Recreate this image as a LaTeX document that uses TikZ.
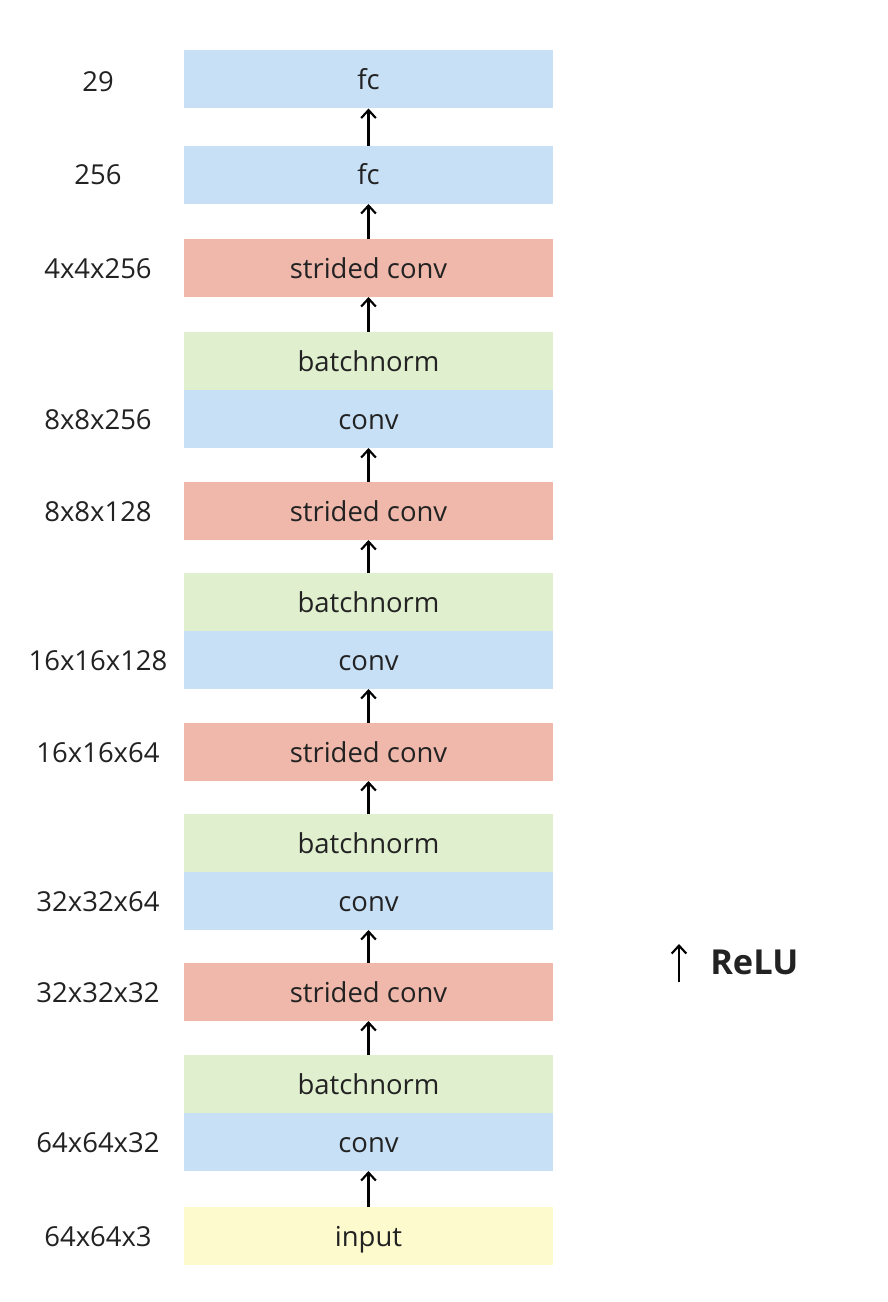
\documentclass[tikz,border=0pt]{standalone}
\usepackage{fontspec}
\setmainfont{Open Sans}
\usetikzlibrary{arrows.meta}
\definecolor{cblue}{HTML}{C7E0F6}
\definecolor{cred}{HTML}{EFB8AB}
\definecolor{cgreen}{HTML}{E0EFCE}
\definecolor{cyellow}{HTML}{FDFACD}
\definecolor{ctext}{HTML}{222222}
\begin{document}
\begin{tikzpicture}[x=0.75pt,y=-0.75pt,
  layer/.style={rectangle, minimum width=276.75pt, minimum height=43.5pt, inner sep=0pt, outer sep=0pt, text=ctext, text height=17pt, text depth=2pt, font=\fontsize{20.6pt}{24pt}\selectfont},
  bluebox/.style={layer, fill=cblue},
  redbox/.style={layer, fill=cred},
  greenbox/.style={layer, fill=cgreen},
  yellowbox/.style={layer, fill=cyellow},
  dimlabel/.style={text=ctext, text height=17pt, text depth=2pt, font=\fontsize{20.6pt}{24pt}\selectfont, inner sep=0pt},
  flow/.style={-{Straight Barb[length=6pt,width=11pt,line width=1.6pt]}, line width=1.6pt, black}
]
\useasboundingbox (0,0) rectangle (888,1302);
\fill[white] (0,0) rectangle (888,1302);

\node[bluebox]   (fc1)   at (368.5,79.5) {fc};
\node[bluebox]   (fc2)   at (368.5,175) {fc};
\node[redbox]    (sc1)   at (368.5,268) {strided conv};
\node[greenbox]  (bn1)   at (368.5,361) {batchnorm};
\node[bluebox]   (conv1) at (368.5,419) {conv};
\node[redbox]    (sc2)   at (368.5,511) {strided conv};
\node[greenbox]  (bn2)   at (368.5,602) {batchnorm};
\node[bluebox]   (conv2) at (368.5,660) {conv};
\node[redbox]    (sc3)   at (368.5,752) {strided conv};
\node[greenbox]  (bn3)   at (368.5,843) {batchnorm};
\node[bluebox]   (conv3) at (368.5,901) {conv};
\node[redbox]    (sc4)   at (368.5,992) {strided conv};
\node[greenbox]  (bn4)   at (368.5,1084) {batchnorm};
\node[bluebox]   (conv4) at (368.5,1142) {conv};
\node[yellowbox] (inp)   at (368.5,1236) {input};

\node[dimlabel] (l1)  at (98,81.5) {29};
\node[dimlabel] (l2)  at (98,175) {256};
\node[dimlabel] (l3)  at (98,268) {4x4x256};
\node[dimlabel] (l4)  at (98,419) {8x8x256};
\node[dimlabel] (l5)  at (98,511) {8x8x128};
\node[dimlabel] (l6)  at (98,660) {16x16x128};
\node[dimlabel] (l7)  at (98,752) {16x16x64};
\node[dimlabel] (l8)  at (98,901) {32x32x64};
\node[dimlabel] (l9)  at (98,992) {32x32x32};
\node[dimlabel] (l10) at (98,1142) {64x64x32};
\node[dimlabel] (l11) at (98,1236) {64x64x3};

\draw[flow] (inp.north) -- (conv4.south);
\draw[flow] (bn4.north) -- (sc4.south);
\draw[flow] (sc4.north) -- (conv3.south);
\draw[flow] (bn3.north) -- (sc3.south);
\draw[flow] (sc3.north) -- (conv2.south);
\draw[flow] (bn2.north) -- (sc2.south);
\draw[flow] (sc2.north) -- (conv1.south);
\draw[flow] (bn1.north) -- (sc1.south);
\draw[flow] (sc1.north) -- (fc2.south);
\draw[flow] (fc2.north) -- (fc1.south);

\coordinate (rb) at (679,982);
\coordinate (rt) at (679,944);
\draw[flow] (rb) -- (rt);
\node[anchor=base west, text=ctext, inner sep=0pt, font=\bfseries\fontsize{25.8pt}{30pt}\selectfont] (relu) at (710,974) {ReLU};
\end{tikzpicture}
\end{document}
